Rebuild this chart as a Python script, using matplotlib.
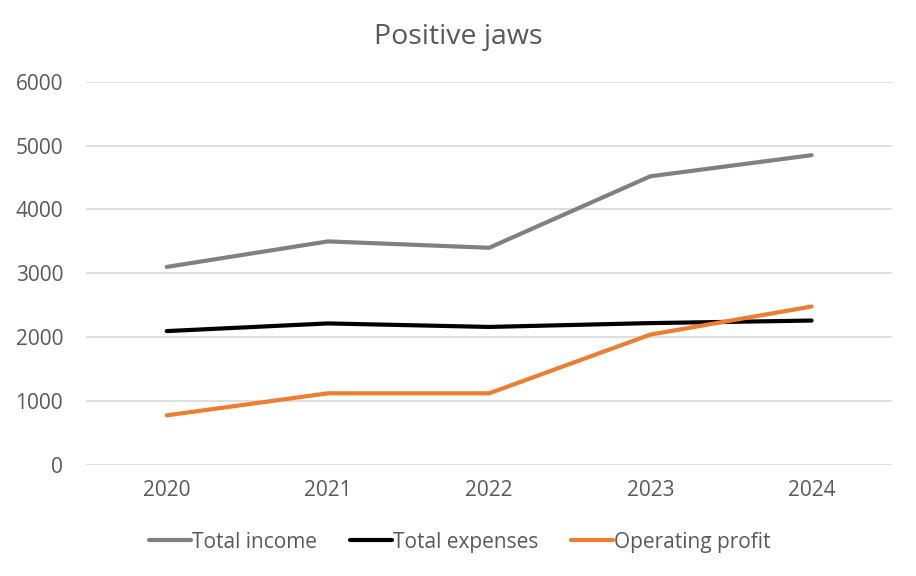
import matplotlib
matplotlib.use("Agg")
import matplotlib.pyplot as plt

# data
years = ["2020", "2021", "2022", "2023", "2024"]
total_income = [3100, 3500, 3400, 4520, 4850]
total_expenses = [2095, 2215, 2160, 2220, 2260]
operating_profit = [775, 1120, 1120, 2040, 2480]

series = [
    ("Total income", total_income, "#808080"),
    ("Total expenses", total_expenses, "#000000"),
    ("Operating profit", operating_profit, "#ED7D31"),
]

text_col = "#595959"
plt.rcParams["font.family"] = ["Open Sans", "DejaVu Sans"]

fig = plt.figure(figsize=(9.16, 5.76), dpi=100)
ax = fig.add_axes([0.094, 0.193, 0.880, 0.665])

x = range(len(years))
for label, vals, col in series:
    ax.plot(x, vals, color=col, lw=3, label=label, solid_capstyle="round",
            solid_joinstyle="round")

ax.set_xlim(-0.5, len(years) - 0.5)
ax.set_ylim(0, 6000)
ax.set_yticks(range(0, 6001, 1000))
ax.set_xticks(list(x))
ax.set_xticklabels(years)

#gridlines only, no frame
ax.yaxis.grid(True, color="#d9d9d9", lw=1.2)
ax.set_axisbelow(True)
for sp in ax.spines.values():
    sp.set_visible(False)
ax.tick_params(length=0, labelsize=15, colors=text_col)
ax.tick_params(axis="y", pad=16.5)
ax.tick_params(axis="x", pad=11)

fig.text(0.5, 0.935, "Positive jaws", ha="center", va="center",
         fontsize=20.5, color=text_col)

leg = fig.legend(loc="center", bbox_to_anchor=(0.502, 0.059), ncol=3,
                 frameon=False, fontsize=15, handlelength=2.0,
                 handletextpad=0.05, columnspacing=1.6)
for t in leg.get_texts():
    t.set_color(text_col)

fig.savefig("out.png", dpi=100)
